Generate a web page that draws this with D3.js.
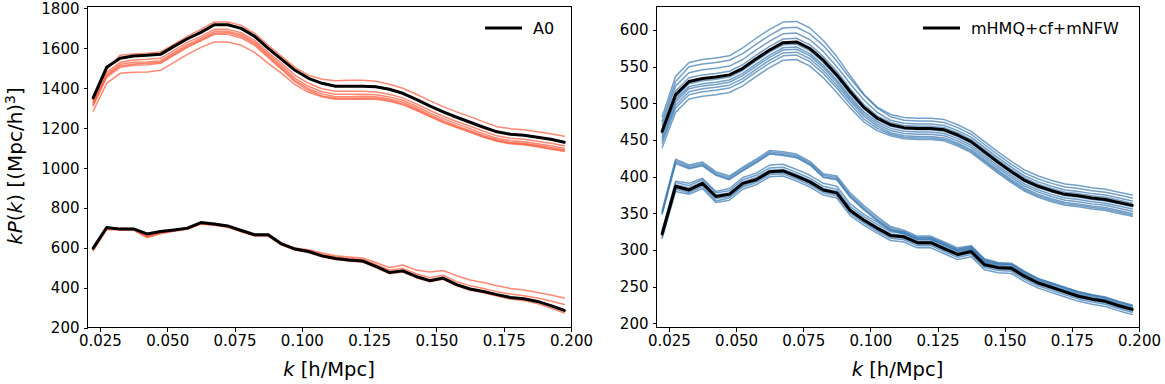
<!DOCTYPE html>
<meta charset="utf-8">
<script src="https://cdn.jsdelivr.net/npm/d3@7"></script>
<style>
body { margin: 0; background: #fff; }
text { font-family: "DejaVu Sans", sans-serif; fill: #000; }
.axis path, .axis line { stroke: #000; stroke-width: 1; shape-rendering: crispEdges; }
.axis text { font-size: 15px; }
.curve { fill: none; stroke-linejoin: round; stroke-linecap: round; }
</style>
<body>
<script>

// k bin centres [h/Mpc]
var kBins = [0.0225,0.0275,0.0325,0.0375,0.0425,0.0475,0.0525,0.0575,0.0625,0.0675,0.0725,0.0775,
             0.0825,0.0875,0.0925,0.0975,0.1025,0.1075,0.1125,0.1175,0.1225,0.1275,0.1325,0.1375,
             0.1425,0.1475,0.1525,0.1575,0.1625,0.1675,0.1725,0.1775,0.1825,0.1875,0.1925,0.1975];

var xTicks = [0.025,0.050,0.075,0.100,0.125,0.150,0.175,0.200];
var yTicksLeft = [200,400,600,800,1000,1200,1400,1600,1800];
var yTicksRight = [200,250,300,350,400,450,500,550,600];

// left panel: A0 (black) and the orange realisations
var a0Upper = [1352,1505,1550,1562,1565,1570,1610,1648,1680,1718,1718,1700,1660,1600,1545,1490,1450,1425,
               1410,1410,1410,1408,1395,1375,1345,1312,1282,1255,1230,1205,1182,1170,1165,1155,1145,1130];
var a0Lower = [600,703,695,696,671,683,691,700,728,721,711,688,667,667,621,595,583,561,
               548,541,536,508,478,486,458,437,450,417,395,383,367,353,346,333,312,288];

var orangeUpper = [
  [1340,1495,1565,1572,1575,1582,1620,1660,1695,1732,1732,1715,1675,1615,1560,1505,1465,1445,1438,1440,1440,1435,1420,1400,1370,1338,1308,1282,1258,1232,1208,1198,1192,1182,1172,1160],
  [1330,1480,1530,1542,1545,1550,1590,1630,1660,1695,1695,1678,1640,1580,1525,1465,1425,1398,1385,1385,1385,1382,1370,1352,1322,1290,1260,1234,1210,1185,1162,1150,1145,1135,1125,1112],
  [1325,1470,1520,1530,1532,1538,1578,1618,1650,1685,1686,1668,1630,1570,1512,1450,1410,1383,1370,1370,1370,1368,1357,1340,1310,1277,1248,1222,1198,1172,1150,1138,1132,1122,1112,1100],
  [1318,1462,1512,1522,1525,1530,1570,1610,1642,1677,1678,1660,1622,1562,1502,1440,1398,1372,1358,1358,1360,1358,1347,1330,1300,1268,1238,1212,1188,1163,1142,1130,1125,1115,1104,1092],
  [1312,1455,1505,1515,1518,1525,1565,1605,1638,1670,1670,1652,1614,1555,1495,1432,1390,1362,1350,1350,1352,1350,1340,1322,1293,1262,1232,1207,1183,1158,1138,1125,1120,1110,1098,1088],
  [1285,1425,1475,1480,1482,1490,1530,1570,1605,1632,1632,1615,1580,1525,1475,1418,1380,1358,1345,1345,1347,1345,1335,1318,1290,1258,1228,1204,1180,1155,1135,1122,1117,1107,1095,1085]
];
var orangeLower = [
  [595,700,700,698,662,680,690,700,726,720,710,688,668,668,625,600,592,575,562,556,550,528,502,515,490,480,488,462,440,428,412,398,390,378,365,350],
  [592,697,697,695,658,678,688,697,724,718,708,686,665,665,622,597,588,568,555,548,543,518,490,498,472,452,464,432,412,398,382,370,362,350,335,318],
  [590,695,693,692,655,676,687,696,722,716,706,684,663,663,618,593,582,562,548,540,535,508,478,485,458,438,450,418,396,384,368,354,347,333,314,292],
  [588,693,690,690,652,672,684,694,720,714,704,682,660,660,615,590,578,557,543,535,530,503,472,480,452,432,444,411,389,376,360,345,337,322,300,275]
];

// right panel: mHMQ+cf+mNFW (black) and the blue realisations
var hmqUpper = [462,512,530,534,536,539,548,561,573,583,584,575,559,539,516,495,480,471,
                467,466,466,464,457,448,434,420,407,395,387,381,376,374,371,369,365,361];
var hmqLower = [322,387,382,391,373,376,391,396,407,408,401,393,382,378,354,341,330,320,
                318,310,310,302,294,298,280,276,275,264,255,249,243,237,233,230,224,219];

var blueUpper = [
  [482,537,556,560,562,565,576,589,601,611,612,603,586,564,538,513,495,485,481,480,480,478,471,462,448,434,421,409,401,395,390,388,385,383,379,375],
  [476,530,550,554,556,559,568,581,593,603,604,595,579,558,534,512,494,482,477,476,476,474,467,458,444,430,417,405,397,391,386,384,381,379,375,371],
  [471,524,542,546,548,551,560,573,585,595,596,587,571,550,527,505,488,477,473,472,472,470,463,454,440,426,413,401,393,387,382,380,377,375,371,367],
  [466,517,535,539,541,544,553,566,578,588,589,580,564,544,520,499,483,474,470,469,469,467,460,451,437,423,410,398,390,384,379,377,374,372,368,364],
  [460,508,527,531,533,536,545,558,570,580,581,572,556,536,513,493,478,469,465,464,464,462,455,446,432,418,405,393,385,379,374,372,369,367,363,359],
  [458,505,523,527,529,532,541,554,566,576,577,568,552,532,509,489,475,466,462,461,461,459,452,443,429,415,402,390,382,376,371,369,366,364,360,356],
  [454,502,520,524,526,529,538,551,563,573,574,565,549,529,506,486,472,463,459,458,458,456,449,440,426,412,399,387,379,373,368,366,363,361,357,353],
  [450,498,516,520,522,525,534,547,559,569,570,561,545,525,503,483,469,460,456,455,455,453,446,437,423,409,396,384,376,370,365,363,360,358,354,350],
  [446,494,512,516,518,521,530,543,555,565,566,557,541,521,499,479,466,458,454,453,453,451,444,435,421,407,394,382,374,368,363,361,358,356,352,348],
  [440,488,506,510,512,515,524,537,549,559,560,551,535,515,494,475,463,456,452,451,451,449,442,433,419,405,392,380,372,366,361,359,356,354,350,346]
];
var blueLower = [
  [354,424,416,420,407,401,413,424,436,434,431,421,404,401,378,361,346,332,327,319,319,311,303,306,288,283,282,271,261,255,249,243,239,235,229,224],
  [352,422,414,418,405,399,411,422,434,432,429,419,402,399,375,358,343,330,325,317,317,309,301,304,286,281,280,269,259,253,247,241,237,233,227,222],
  [350,420,412,416,403,397,409,420,432,430,427,417,400,397,373,356,341,328,323,315,315,307,299,302,284,279,278,267,257,251,245,239,235,231,225,220],
  [349,418,411,415,402,396,408,419,431,429,426,416,399,396,372,355,340,327,322,314,314,306,298,301,283,278,277,266,256,250,244,238,234,230,224,219],
  [327,392,388,396,378,381,396,402,412,413,406,398,387,383,359,346,335,325,323,315,315,307,299,303,285,281,280,269,260,254,248,242,238,235,229,224],
  [324,389,385,393,375,378,393,399,409,410,403,395,384,380,356,343,332,322,320,312,312,304,296,300,282,278,277,266,257,251,245,239,235,232,226,221],
  [320,385,380,389,370,373,388,394,405,406,399,391,380,376,352,339,328,318,316,308,308,300,292,296,278,274,273,262,253,247,241,235,231,228,222,217],
  [318,383,378,387,367,371,386,392,403,404,397,389,378,374,350,337,326,316,314,306,306,298,290,294,276,272,271,260,251,245,239,233,229,226,220,215],
  [325,394,391,398,380,384,399,405,416,417,410,402,391,387,363,349,338,327,325,317,317,309,301,305,287,282,281,270,261,255,249,243,239,236,230,225],
  [316,380,376,384,365,368,383,389,400,401,394,386,375,371,347,334,323,313,311,303,303,295,287,291,273,269,268,257,248,242,236,230,226,223,217,212]
];

var W = 1165, H = 384;
var svg = d3.select("body").append("svg")
    .attr("width", W)
    .attr("height", H);

var plotTop = 6, plotBottom = 327;

function panel(opt) {
    var x = d3.scaleLinear().domain([0.0202, 0.200]).range([opt.left, opt.right]);
    var y = d3.scaleLinear().domain(opt.ydom).range([plotBottom, plotTop]);
    var g = svg.append("g");

    var line = d3.line()
        .x(function(d, i) { return x(kBins[i]); })
        .y(function(d) { return y(d); });

    // realisations
    g.selectAll(".thin")
        .data(opt.thin)
        .enter().append("path")
        .attr("class", "curve")
        .attr("d", line)
        .attr("stroke", opt.color)
        .attr("stroke-opacity", 0.72)
        .attr("stroke-width", 1.5);

    // best model
    opt.thick.forEach(function(s) {
        g.append("path")
            .attr("class", "curve")
            .attr("d", line(s))
            .attr("stroke", "#000")
            .attr("stroke-width", 3);
    });

    // frame
    g.append("rect")
        .attr("x", opt.left + 0.5).attr("y", plotTop + 0.5)
        .attr("width", opt.right - opt.left).attr("height", plotBottom - plotTop)
        .attr("fill", "none").attr("stroke", "#000").attr("stroke-width", 1);

    g.append("g")
        .attr("class", "axis")
        .attr("transform", "translate(0," + (plotBottom + 0.5) + ")")
        .call(d3.axisBottom(x).tickValues(xTicks).tickFormat(d3.format(".3f"))
              .tickSize(4).tickSizeOuter(0).tickPadding(4))
        .select(".domain").remove();

    g.append("g")
        .attr("class", "axis")
        .attr("transform", "translate(" + (opt.left + 0.5) + ",0)")
        .call(d3.axisLeft(y).tickValues(opt.yticks).tickFormat(d3.format("d"))
              .tickSize(4).tickSizeOuter(0).tickPadding(4))
        .select(".domain").remove();

    // x label
    var xl = svg.append("text")
        .attr("x", (opt.left + opt.right) / 2)
        .attr("y", 376)
        .attr("text-anchor", "middle")
        .style("font-size", "19.5px");
    xl.append("tspan").style("font-style", "italic").text("k");
    xl.append("tspan").text(" [h/Mpc]");

    // legend
    var lx = opt.legendX;
    svg.append("line")
        .attr("x1", lx).attr("x2", lx + 37)
        .attr("y1", 28).attr("y2", 28)
        .attr("stroke", "#000").attr("stroke-width", 3);
    svg.append("text")
        .attr("x", lx + 48).attr("y", 33.5)
        .style("font-size", "16px")
        .text(opt.legend);
}

panel({left: 87, right: 571, ydom: [205, 1812], yticks: yTicksLeft,
       thin: orangeUpper.concat(orangeLower), thick: [a0Upper, a0Lower],
       color: "#ff5a3c", legend: "A0", legendX: 485});

panel({left: 656, right: 1139, ydom: [195, 633], yticks: yTicksRight,
       thin: blueUpper.concat(blueLower), thick: [hmqUpper, hmqLower],
       color: "#3f7bb3", legend: "mHMQ+cf+mNFW", legendX: 923});

// y label
var yl = svg.append("text")
    .attr("transform", "translate(22,166) rotate(-90)")
    .attr("text-anchor", "middle")
    .style("font-size", "20px");
yl.append("tspan").style("font-style", "italic").text("kP");
yl.append("tspan").text("(");
yl.append("tspan").style("font-style", "italic").text("k");
yl.append("tspan").text(") [(Mpc/h)");
yl.append("tspan").attr("dy", -7).style("font-size", "14px").text("3");
yl.append("tspan").attr("dy", 7).text("]");

</script>
</body>
</html>
